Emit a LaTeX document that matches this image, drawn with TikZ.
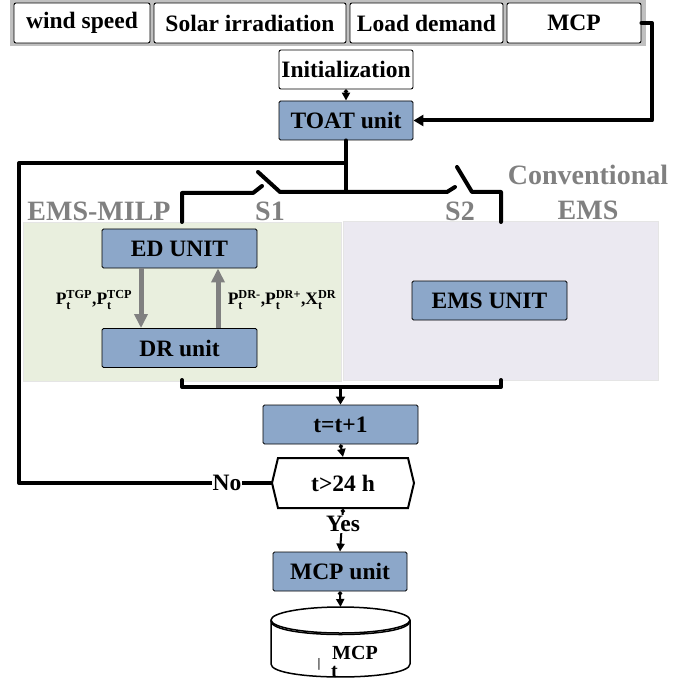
\documentclass[tikz,border=0pt]{standalone}
\usepackage{fontspec}
\setmainfont{Liberation Serif}
\usepackage{amsmath}
\usetikzlibrary{arrows.meta,shapes.symbols}
\definecolor{boxblue}{RGB}{140,167,201}
\definecolor{panelgreen}{RGB}{233,239,222}
\definecolor{panelgray}{RGB}{235,233,241}
\definecolor{barbg}{RGB}{192,192,192}
\definecolor{labgray}{RGB}{128,128,128}
\begin{document}
\begin{tikzpicture}[x=1pt,y=-1pt,
  font=\bfseries\fontsize{23.5}{26}\selectfont,
  inbox/.style={draw, fill=white, rounded corners=2pt, line width=0.9pt, minimum height=40pt, inner sep=0pt},
  unitbox/.style={draw, fill=boxblue, rounded corners=1.5pt, line width=0.9pt, minimum height=39pt, inner sep=0pt},
  flow/.style={line width=4pt, line cap=round, line join=round},
  thinarrow/.style={line width=2pt, {Circle[length=4pt]}-{Triangle[length=8pt,width=8pt]}},
  grayarrow/.style={line width=5pt, draw=labgray, -{Triangle[length=14pt,width=13pt]}},
  graylabel/.style={text=labgray, anchor=base, inner sep=0pt, font=\bfseries\fontsize{28}{30}\selectfont},
  smalllab/.style={inner sep=0pt, font=\bfseries\fontsize{17.5}{19}\selectfont},
  dblab/.style={inner sep=0pt, anchor=base west, font=\bfseries\fontsize{20}{22}\selectfont},
  cover/.style={fill=white, inner sep=1pt}
]
\useasboundingbox (0,0) rectangle (692,684);

% top input bar
\node[fill=barbg, minimum width=636pt, minimum height=46pt, inner sep=0pt] (bar) at (328,23) {};
\node[inbox, minimum width=136pt] (wind) at (82,23) {wind speed};
\node[inbox, minimum width=192pt] (solar) at (250,23) {Solar irradiation};
\node[inbox, minimum width=153pt] (load) at (426.5,23) {Load demand};
\node[inbox, minimum width=134pt] (mcp) at (574,23) {MCP};

\node[inbox, minimum width=134pt, minimum height=39pt] (init) at (346,69.5) {Initialization};
\node[unitbox, minimum width=134pt] (toat) at (346,120.5) {TOAT unit};

% panels
\node[fill=panelgreen, draw=gray!20, minimum width=318pt, minimum height=159pt, inner sep=0pt] (milp) at (182,301.5) {};
\node[fill=panelgray, draw=gray!20, minimum width=315pt, minimum height=159pt, inner sep=0pt] (conv) at (500.5,300.5) {};

\node[unitbox, minimum width=155pt] (ed) at (179.5,248.5) {ED UNIT};
\node[unitbox, minimum width=155pt] (dr) at (179.5,348) {DR unit};
\node[unitbox, minimum width=155pt] (ems) at (489.5,300.5) {EMS UNIT};

\draw[grayarrow] ([xshift=-38.5pt]ed.south) -- ([xshift=-38.5pt]dr.north);
\draw[grayarrow] ([xshift=38.5pt]dr.north) -- ([xshift=38.5pt]ed.south);
\node[smalllab] (labl) at (94,300) {P$_{\text{t}}^{\text{TGP}}$,P$_{\text{t}}^{\text{TCP}}$};
\node[smalllab] (labr) at (282,300) {P$_{\text{t}}^{\text{DR-}}$,P$_{\text{t}}^{\text{DR+}}$,X$_{\text{t}}^{\text{DR}}$};

% gray labels
\node[graylabel] (milplab) at (99,221) {EMS-MILP};
\node[graylabel] (s1lab) at (270,221) {S1};
\node[graylabel] (s2lab) at (460,221) {S2};
\node[graylabel] (convlab) at (588,185) {Conventional};
\node[graylabel] (emslab) at (588,220) {EMS};

% lower flow nodes
\node[unitbox, minimum width=155pt] (tt) at (340.5,424.5) {t=t+1};
\node[draw, fill=white, line width=2pt, signal, signal to=west and east, signal pointer angle=153,
      minimum width=142pt, minimum height=50pt, inner sep=0pt] (hex) at (343,483) {t>24 h};
\node[unitbox, minimum width=134pt] (mcpu) at (340,571.5) {MCP unit};

% coordinates
\coordinate (split) at (346,163);
\coordinate (barc) at (346,192);
\coordinate (mcpturn) at (652,23);
\coordinate (leftturn) at (19,163);
\coordinate (s1in) at (182,222);
\coordinate (s1top) at (258,172);
\coordinate (s2top) at (457,167);
\coordinate (s2out) at (501,222);
\coordinate (bbl) at (182,380);
\coordinate (bbr) at (501,380);
\coordinate (bbc) at (340.5,387);
\coordinate (dbtop) at (340.5,607);

% connectors
\draw[thinarrow] (init) -- (toat);
\draw[flow, -{Triangle[length=10pt,width=11pt]}] (mcp.east) -- (mcpturn) |- (toat.east);
\draw[flow] (toat.south) -- (barc);
\draw[flow] (split) -- (leftturn) |- (hex.west);
\draw[flow] (s1in) -- (182,193) -- (253,193) -- (262,186);
\draw[flow] (s1top) -- (280,192) -- (447,192) -- (455,187);
\draw[flow] (s2top) -- (472,192) -- (501,192) -- (s2out);
\draw[flow] (bbl) -- (182,387) -- (501,387) -- (bbr);
\draw[line width=2.5pt, -{Triangle[length=8pt,width=9pt]}] (bbc) -- (tt.north);
\draw[thinarrow] (tt.south) -- (hex.north);
\draw[thinarrow] (hex.south) -- (mcpu.north);
\draw[thinarrow] (mcpu.south) -- (dbtop);

\node[cover] (no) at (227,483) {No};
\node[cover] (yes) at (343,524) {Yes};

% database cylinder
\filldraw[fill=white, line width=1.5pt] (271,620) -- (271,664) .. controls (271,681.3) and (410,681.3) .. (410,664) -- (410,620);
\filldraw[fill=white, line width=1.5pt] (340.5,620) ellipse [x radius=69.5pt, y radius=13pt];
\draw[line width=1.5pt] (271,621) .. controls (271,639) and (410,639) .. (410,621);
\node[inner sep=0pt, font=\bfseries\fontsize{13}{14}\selectfont] (dbbar) at (319,664) {|};
\node[dblab] (dbsup) at (332,659) {MCP};
\node[dblab] (dbsub) at (331,677.5) {t};
\end{tikzpicture}
\end{document}
